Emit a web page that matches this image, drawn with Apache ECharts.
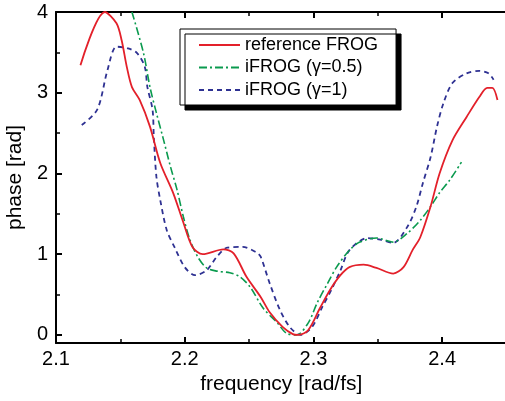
<!DOCTYPE html>
<html>
<head>
<meta charset="utf-8">
<script src="https://cdn.jsdelivr.net/npm/echarts@6/dist/echarts.min.js"></script>
<style>
  html, body { margin: 0; padding: 0; background: #fff; }
  #main { width: 505px; height: 401px; }
</style>
</head>
<body>
<div id="main"></div>
<script>
// reference FROG (red, solid)
var refFreq  = [2.119, 2.138, 2.147, 2.151, 2.155, 2.159, 2.165, 2.173, 2.181, 2.191, 2.199, 2.206, 2.214, 2.230, 2.238, 2.248, 2.259, 2.266, 2.276, 2.284, 2.288, 2.296, 2.305, 2.313, 2.321, 2.328, 2.339, 2.349, 2.362, 2.370, 2.377, 2.383, 2.391, 2.398, 2.408, 2.419, 2.429, 2.435, 2.439, 2.443];
var refPhase = [3.34, 4.00, 3.86, 3.65, 3.32, 3.07, 2.91, 2.58, 2.13, 1.76, 1.39, 1.09, 1.00, 1.06, 1.01, 0.72, 0.47, 0.28, 0.10, 0.01, 0.00, 0.06, 0.33, 0.56, 0.74, 0.84, 0.87, 0.83, 0.76, 0.84, 1.05, 1.21, 1.59, 2.00, 2.41, 2.70, 2.95, 3.06, 3.06, 2.91];

// iFROG gamma=0.5 (green, dash-dot)
var g05Freq  = [2.159, 2.168, 2.173, 2.178, 2.183, 2.189, 2.194, 2.199, 2.204, 2.210, 2.217, 2.225, 2.235, 2.243, 2.251, 2.261, 2.272, 2.279, 2.287, 2.296, 2.303, 2.311, 2.318, 2.328, 2.336, 2.349, 2.362, 2.373, 2.383, 2.391, 2.398, 2.406, 2.415];
var g05Phase = [4.00, 3.49, 3.07, 2.75, 2.45, 2.08, 1.80, 1.46, 1.18, 0.97, 0.83, 0.79, 0.77, 0.72, 0.59, 0.33, 0.15, 0.02, 0.00, 0.15, 0.40, 0.64, 0.84, 1.05, 1.15, 1.20, 1.15, 1.26, 1.42, 1.59, 1.76, 1.92, 2.14];

// iFROG gamma=1 (blue, dashed)
var g1Freq  = [2.120, 2.132, 2.140, 2.147, 2.156, 2.163, 2.169, 2.171, 2.175, 2.176, 2.178, 2.181, 2.186, 2.192, 2.200, 2.208, 2.217, 2.225, 2.233, 2.245, 2.256, 2.259, 2.266, 2.274, 2.282, 2.290, 2.299, 2.307, 2.314, 2.321, 2.328, 2.342, 2.352, 2.362, 2.373, 2.380, 2.385, 2.391, 2.396, 2.401, 2.408, 2.419, 2.429, 2.436, 2.440];
var g1Phase = [2.60, 2.79, 3.28, 3.57, 3.55, 3.49, 3.32, 3.07, 2.79, 2.45, 1.96, 1.67, 1.30, 1.09, 0.84, 0.74, 0.80, 0.97, 1.08, 1.09, 1.02, 0.97, 0.64, 0.31, 0.09, 0.00, 0.10, 0.35, 0.56, 0.80, 1.05, 1.20, 1.18, 1.14, 1.34, 1.59, 1.88, 2.20, 2.58, 2.87, 3.12, 3.24, 3.27, 3.24, 3.16];

var seriesNames = ['reference FROG', 'iFROG (\u03b3=0.5)', 'iFROG (\u03b3=1)'];

function pairs(xs, ys) {
  var out = [];
  for (var i = 0; i < xs.length; i++) out.push([xs[i], ys[i]]);
  return out;
}

var font = 'Liberation Sans, Arial, sans-serif';
var chart = echarts.init(document.getElementById('main'), null, { renderer: 'canvas' });

var axisCommon = {
  axisLine: { show: true, onZero: false, lineStyle: { color: '#000', width: 2 } },
  axisTick: { show: true, inside: true, length: 6, lineStyle: { color: '#000', width: 2 } },
  minorTick: { show: true, splitNumber: 2, length: 4, lineStyle: { color: '#000', width: 1.5 } },
  splitLine: { show: false }
};

var option = {
  animation: false,
  backgroundColor: '#fff',
  grid: { left: 56, top: 12, right: -1.5, bottom: 58, containLabel: false, outerBoundsMode: 'none' },
  legend: {
    orient: 'vertical',
    left: 180,
    top: 29,
    data: seriesNames,
    itemWidth: 41,
    itemHeight: 14,
    itemGap: 4.5,
    padding: [7, 18, 6, 18],
    backgroundColor: '#fff',
    borderColor: '#000',
    borderWidth: 1,
    shadowColor: '#000',
    shadowBlur: 0,
    shadowOffsetX: 5,
    shadowOffsetY: 5,
    itemStyle: { opacity: 0 },
    textStyle: { fontFamily: font, fontSize: 18, color: '#000' }
  },
  xAxis: [
    Object.assign({}, axisCommon, {
      type: 'value',
      min: 2.1,
      max: 2.45,
      interval: 0.1,
      name: 'frequency [rad/fs]',
      nameLocation: 'middle',
      nameGap: 27,
      nameTextStyle: { fontFamily: font, fontSize: 21, color: '#000', verticalAlign: 'top' },
      axisLabel: {
        margin: 6,
        fontFamily: font,
        fontSize: 20,
        color: '#000',
        formatter: function (v) {
          return Math.abs(v * 10 - Math.round(v * 10)) < 1e-6 ? v.toFixed(1) : '';
        }
      }
    }),
    Object.assign({}, axisCommon, {
      type: 'value',
      position: 'top',
      min: 2.1,
      max: 2.45,
      interval: 0.1,
      axisLabel: { show: false }
    })
  ],
  yAxis: Object.assign({}, axisCommon, {
    type: 'value',
    min: -0.1,
    max: 4,
    splitNumber: 4,
    name: 'phase [rad]',
    nameLocation: 'middle',
    nameGap: 29,
    nameTextStyle: { fontFamily: font, fontSize: 21, color: '#000' },
    axisLabel: {
      margin: 8,
      fontFamily: font,
      fontSize: 20,
      color: '#000',
      formatter: function (v) {
        return Math.abs(v - Math.round(v)) < 1e-6 ? String(Math.round(v)) : '';
      }
    }
  }),
  series: [
    {
      name: seriesNames[2],
      type: 'line',
      data: pairs(g1Freq, g1Phase),
      showSymbol: false,
      symbol: 'none',
      smooth: 0.3,
      lineStyle: { color: '#2e3192', width: 1.8, type: [5, 4] },
      itemStyle: { color: '#2e3192' }
    },
    {
      name: seriesNames[1],
      type: 'line',
      data: pairs(g05Freq, g05Phase),
      showSymbol: false,
      symbol: 'none',
      smooth: 0.3,
      lineStyle: { color: '#0a9a4e', width: 1.6, type: [8, 3, 2, 3] },
      itemStyle: { color: '#0a9a4e' }
    },
    {
      name: seriesNames[0],
      type: 'line',
      data: pairs(refFreq, refPhase),
      showSymbol: false,
      symbol: 'none',
      smooth: 0.3,
      lineStyle: { color: '#e3202a', width: 1.8 },
      itemStyle: { color: '#e3202a' }
    }
  ]
};

chart.setOption(option);
</script>
</body>
</html>
